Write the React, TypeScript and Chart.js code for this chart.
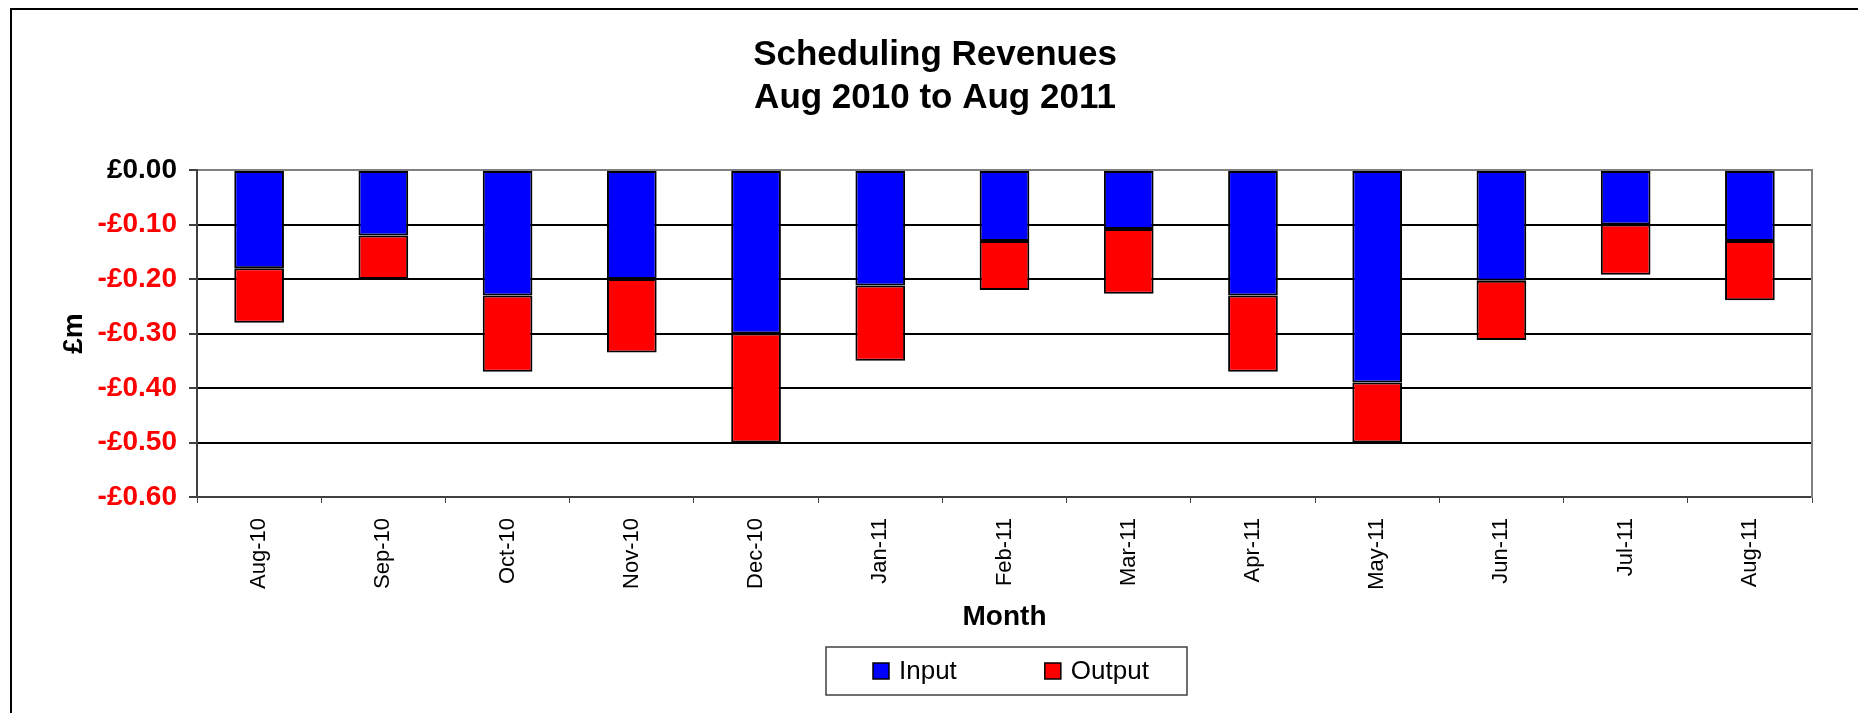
import { useEffect, useRef } from 'react';
import { Chart, registerables } from 'chart.js';

Chart.register(...registerables);

const FONT = "'Liberation Sans', Arial, Helvetica, sans-serif";

const months = ['Aug-10', 'Sep-10', 'Oct-10', 'Nov-10', 'Dec-10', 'Jan-11', 'Feb-11', 'Mar-11', 'Apr-11', 'May-11', 'Jun-11', 'Jul-11', 'Aug-11'];
const inputValues = [-0.18, -0.12, -0.23, -0.2, -0.3, -0.212, -0.13, -0.108, -0.23, -0.39, -0.203, -0.1, -0.13];
const outputValues = [-0.1, -0.08, -0.14, -0.135, -0.2, -0.138, -0.09, -0.119, -0.14, -0.11, -0.109, -0.092, -0.109];
const seriesNames = ['Input', 'Output'];
const seriesColors = ['#0000FF', '#FF0000'];
const titleLines = ['Scheduling Revenues', 'Aug 2010 to Aug 2011'];
const xAxisTitle = 'Month';
const yAxisTitle = '£m';
const yMin = -0.6;
const yMax = 0;
const yStep = 0.1;

const boxedLegend = {
  id: 'boxedLegend',
  afterDraw(chart: any) {
    const { ctx, chartArea } = chart;
    const xs = chart.scales.x;
    const w = 361;
    const h = 48;
    const cx = (chartArea.left + chartArea.right) / 2 + 2;
    const left = cx - w / 2;
    const top = xs.bottom + 7;
    ctx.save();
    ctx.strokeStyle = '#404040';
    ctx.lineWidth = 1.5;
    ctx.strokeRect(left, top, w, h);
    ctx.font = `26px ${FONT}`;
    ctx.textBaseline = 'middle';
    ctx.textAlign = 'left';
    const sq = 16;
    const gap = 10;
    const itemGap = 88;
    const cy = top + h / 2;
    let x = left + 47;
    chart.data.datasets.forEach((d: any) => {
      const tw = ctx.measureText(d.label).width;
      ctx.fillStyle = d.backgroundColor;
      ctx.fillRect(x, cy - sq / 2, sq, sq);
      ctx.strokeStyle = '#000';
      ctx.lineWidth = 1.5;
      ctx.strokeRect(x, cy - sq / 2, sq, sq);
      ctx.fillStyle = '#000';
      ctx.fillText(d.label, x + sq + gap, cy + 1);
      x += sq + gap + tw + itemGap;
    });
    ctx.restore();
  },
};

function formatMoney(v: number): string {
  const r = Math.round(v * 100) / 100;
  if (r === 0) return '£0.00';
  return (r < 0 ? '-£' : '£') + Math.abs(r).toFixed(2);
}

export default function App() {
  const canvasRef = useRef<HTMLCanvasElement | null>(null);

  useEffect(() => {
    if (!canvasRef.current) return;
    const chart = new Chart(canvasRef.current, {
      type: 'bar',
      data: {
        labels: months,
        datasets: [
          {
            label: seriesNames[0],
            data: inputValues,
            backgroundColor: seriesColors[0],
            borderColor: '#000000',
            borderWidth: 2,
            borderSkipped: false,
            barPercentage: 0.4,
            categoryPercentage: 1.0,
          },
          {
            label: seriesNames[1],
            data: outputValues,
            backgroundColor: seriesColors[1],
            borderColor: '#000000',
            borderWidth: 2,
            borderSkipped: false,
            barPercentage: 0.4,
            categoryPercentage: 1.0,
          },
        ],
      },
      options: {
        responsive: false,
        animation: false,
        devicePixelRatio: 1,
        layout: { padding: { left: 0, right: 0, top: 0, bottom: 73 } },
        plugins: {
          legend: { display: false },
          tooltip: { enabled: false },
          title: {
            display: true,
            text: titleLines,
            color: '#000000',
            font: { family: FONT, size: 35, weight: 'bold', lineHeight: 1.23 },
            padding: { top: 24, bottom: 50 },
          },
        },
        scales: {
          x: {
            stacked: true,
            offset: true,
            grid: {
              display: true,
              drawOnChartArea: false,
              drawTicks: true,
              tickLength: 6,
              tickColor: '#404040',
              offset: true,
            },
            border: { display: true, color: '#404040', width: 2 },
            ticks: {
              autoSkip: false,
              maxRotation: 90,
              minRotation: 90,
              padding: 15,
              color: '#000000',
              font: { family: FONT, size: 22 },
            },
            title: {
              display: true,
              text: xAxisTitle,
              color: '#000000',
              font: { family: FONT, size: 28, weight: 'bold' },
              padding: { top: 0, bottom: 6 },
            },
            afterFit: (s: any) => {
              s.height = 143;
            },
          },
          y: {
            stacked: true,
            min: yMin,
            max: yMax,
            ticks: {
              stepSize: yStep,
              padding: 12,
              color: (c: any) => (Math.abs(c.tick.value) < 1e-9 ? '#000000' : '#FF0000'),
              font: { family: FONT, size: 28, weight: 'bold' },
              callback: (v: any) => formatMoney(Number(v)),
            },
            grid: {
              color: (c: any) => (c.tick && Math.abs(c.tick.value) < 1e-9 ? '#808080' : '#000000'),
              lineWidth: 2,
              tickLength: 8,
              tickColor: '#404040',
              tickWidth: 2,
            },
            border: { display: true, color: '#404040', width: 2 },
            title: {
              display: true,
              text: yAxisTitle,
              color: '#000000',
              font: { family: FONT, size: 28, weight: 'bold' },
              padding: { top: 45, bottom: 0 },
            },
            afterFit: (s: any) => {
              s.width = 185;
            },
          },
          yRight: {
            type: 'linear',
            position: 'right',
            display: true,
            grid: { display: false, drawTicks: false },
            ticks: { display: false },
            border: { display: true, color: '#808080', width: 2 },
            afterFit: (s: any) => {
              s.width = 46;
            },
          },
        },
      } as any,
      plugins: [boxedLegend],
    });
    return () => chart.destroy();
  }, []);

  return (
    <div
      style={{
        position: 'absolute',
        left: 10,
        top: 8,
        width: 1848,
        height: 705,
        boxSizing: 'border-box',
        borderTop: '2px solid #000',
        borderLeft: '2px solid #000',
        background: '#fff',
        overflow: 'hidden',
      }}
    >
      <canvas ref={canvasRef} width={1846} height={703} style={{ display: 'block', width: 1846, height: 703 }} />
    </div>
  );
}
